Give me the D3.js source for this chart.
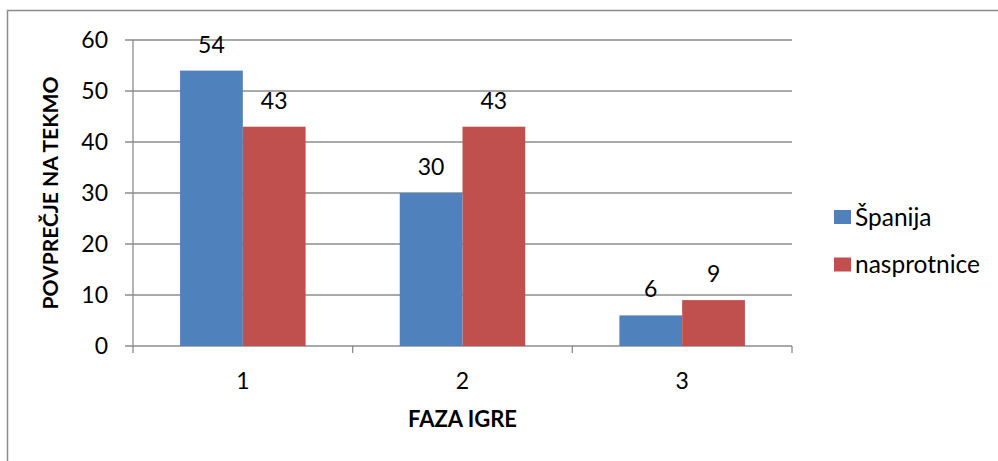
<!DOCTYPE html>
<html>
<head>
<meta charset="utf-8">
<script src="https://cdn.jsdelivr.net/npm/d3@7"></script>
<style>
  body { margin: 0; background: #fff; }
  text { font-family: Lato, "Open Sans", sans-serif; fill: #000; }
</style>
</head>
<body>
<div id="chart"></div>
<script>
var categories = ["1", "2", "3"];
var seriesNames = ["Španija", "nasprotnice"];
var spanija = [54, 30, 6];
var nasprotnice = [43, 43, 9];
var yTicks = [0, 10, 20, 30, 40, 50, 60];

var width = 998, height = 461;
var plotLeft = 133, plotRight = 792, plotTop = 40, plotBottom = 346;
var colors = ["#4f81bd", "#c0504d"];

var svg = d3.select("#chart").append("svg")
  .attr("width", width).attr("height", height);

// outer chart frame (runs past right/bottom edge)
svg.append("rect")
  .attr("x", 7.5).attr("y", 10.5)
  .attr("width", 1100).attr("height", 600)
  .attr("fill", "none").attr("stroke", "#8c8c8c").attr("stroke-width", 1.5);

var x = d3.scaleBand().domain(categories).range([plotLeft, plotRight]);
var y = d3.scaleLinear().domain([0, 60]).range([plotBottom, plotTop]);
var bw = x.bandwidth() / 3.5;

// gridlines
svg.append("g").selectAll("line").data(yTicks).enter().append("line")
  .attr("x1", plotLeft - 8).attr("x2", plotRight)
  .attr("y1", function (d) { return y(d); }).attr("y2", function (d) { return y(d); })
  .attr("stroke", "#8c8c8c").attr("stroke-width", 1.3);

// y axis line
svg.append("line")
  .attr("x1", plotLeft).attr("x2", plotLeft).attr("y1", plotTop).attr("y2", plotBottom)
  .attr("stroke", "#8c8c8c").attr("stroke-width", 1.3);

// x category ticks
var xt = [plotLeft].concat(categories.map(function (c) { return x(c) + x.bandwidth(); }));
svg.append("g").selectAll("line").data(xt).enter().append("line")
  .attr("x1", function (d) { return d; }).attr("x2", function (d) { return d; })
  .attr("y1", plotBottom).attr("y2", plotBottom + 7)
  .attr("stroke", "#8c8c8c").attr("stroke-width", 1.3);

// y tick labels
svg.append("g").selectAll("text").data(yTicks).enter().append("text")
  .attr("x", 108).attr("y", function (d) { return y(d); })
  .attr("dy", "0.35em").attr("text-anchor", "end")
  .style("font-size", "23px")
  .text(function (d) { return d; });

// x tick labels
svg.append("g").selectAll("text").data(categories).enter().append("text")
  .attr("x", function (d) { return x(d) + x.bandwidth() / 2; })
  .attr("y", 381).attr("dy", "0.35em").attr("text-anchor", "middle")
  .style("font-size", "23px")
  .text(function (d) { return d; });

var series = [spanija, nasprotnice];
series.forEach(function (vals, s) {
  var g = svg.append("g");
  g.selectAll("rect").data(vals).enter().append("rect")
    .attr("x", function (d, i) { return x(categories[i]) + bw * 0.75 + s * bw; })
    .attr("y", function (d) { return y(d); })
    .attr("width", bw)
    .attr("height", function (d) { return y(0) - y(d); })
    .attr("fill", colors[s]);
  g.selectAll("text").data(vals).enter().append("text")
    .attr("x", function (d, i) { return x(categories[i]) + bw * 0.75 + s * bw + bw / 2; })
    .attr("y", function (d) { return y(d) - 26; })
    .attr("dy", "0.35em").attr("text-anchor", "middle")
    .style("font-size", "23px")
    .text(function (d) { return d; });
});

// axis titles
svg.append("text")
  .attr("transform", "translate(51," + (plotTop + plotBottom) / 2 + ") rotate(-90)")
  .attr("text-anchor", "middle").attr("dy", "0.35em")
  .style("font-size", "21px").style("font-weight", "bold")
  .text("POVPREČJE NA TEKMO");

svg.append("text")
  .attr("x", (plotLeft + plotRight) / 2).attr("y", 419)
  .attr("dy", "0.35em").attr("text-anchor", "middle")
  .style("font-size", "22px").style("font-weight", "bold")
  .text("FAZA IGRE");

// legend
var legend = svg.append("g").selectAll("g").data(seriesNames).enter().append("g")
  .attr("transform", function (d, i) { return "translate(834," + (217 + i * 47.5) + ")"; });
legend.append("rect")
  .attr("x", 0).attr("y", -7).attr("width", 17).attr("height", 14)
  .attr("fill", function (d, i) { return colors[i]; });
legend.append("text")
  .attr("x", 21).attr("y", 0).attr("dy", "0.35em")
  .style("font-size", "24.5px")
  .text(function (d) { return d; });
</script>
</body>
</html>
